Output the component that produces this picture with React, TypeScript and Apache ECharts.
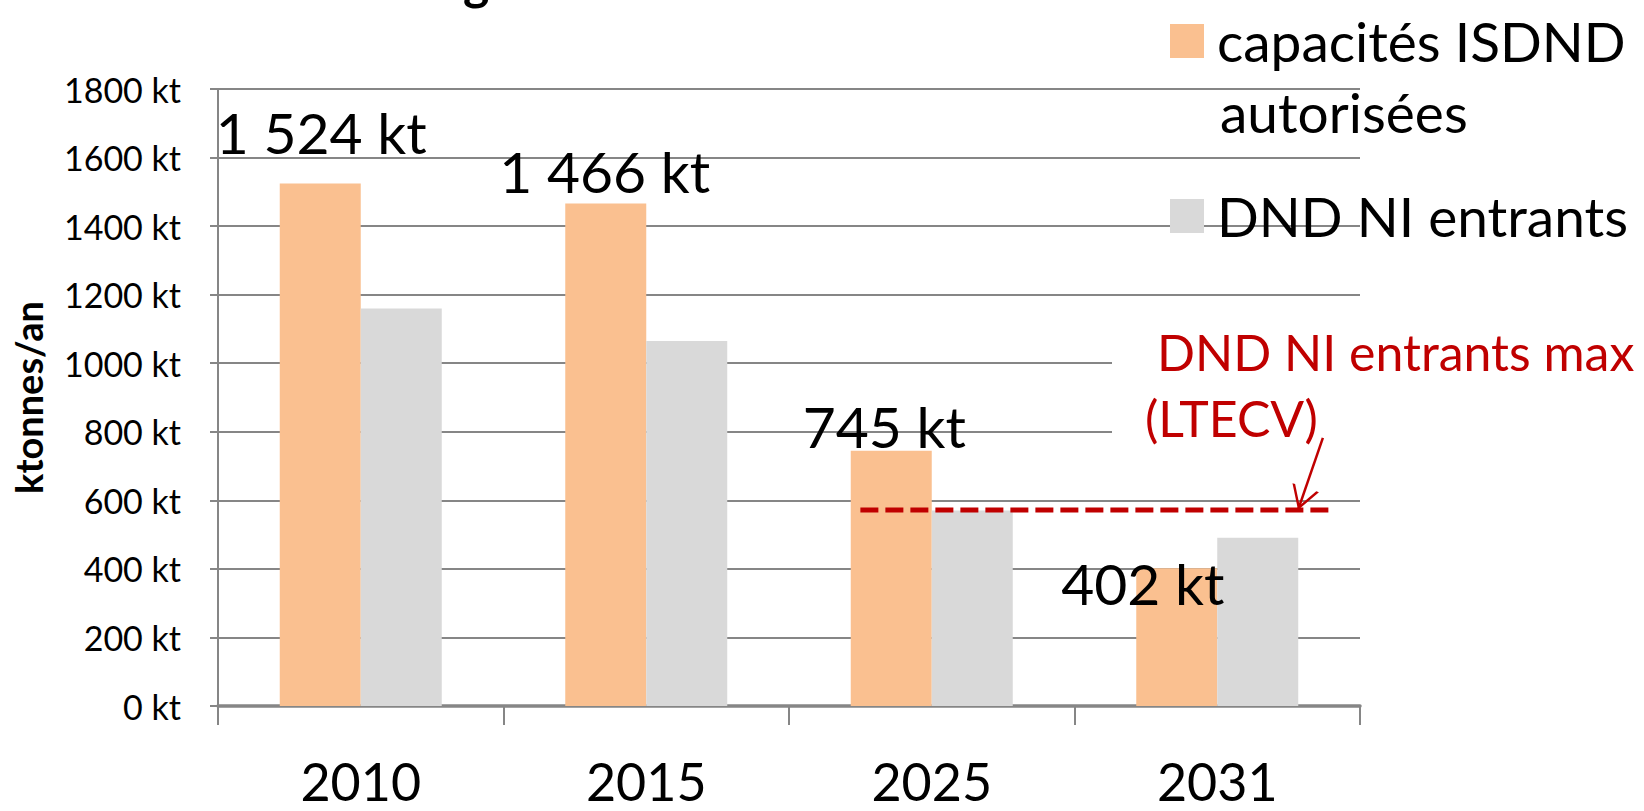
import { useEffect, useRef } from 'react';
import * as echarts from 'echarts';

// ---- data ----
const categories = ['2010', '2015', '2025', '2031'];
const capacitesISDND = [1524, 1466, 745, 402];
const dndEntrants = [1160, 1065, 570, 491];
const ltecvMax = 572;
// extent of the LTECV max line, in category-position units (0..4)
const ltecvExtent = [2.25, 3.9];
// annotation arrow (category-position, value)
const arrowStart = [3.87, 782];
const arrowEnd = [3.783, ltecvMax];
const yMin = 0;
const yMax = 1800;
const yStep = 200;

const SERIES_CAP = 'capacités ISDND autorisées';
const SERIES_IN = 'DND NI entrants';
const SERIES_MAX = 'DND NI entrants max (LTECV)';

// label nudges (styling, px)
const labelOffsets = [[1, -23], [-1, -4], [-7, 4], [-34, 43]];

const FONT = 'Lato';
const AXIS_GREY = '#868686';
const ORANGE = '#FAC090';
const GREY = '#D9D9D9';
const RED = '#C00000';

const fmtKt = (v: number) =>
  String(v).replace(/\B(?=(\d{3})+(?!\d))/g, ' ') + ' kt';

const arrowPath = 'path://M5,0L5,0M0,20L5,10L10,20L9,20L5,12L1,20Z';

export default function App() {
  const ref = useRef<HTMLDivElement>(null);

  useEffect(() => {
    const chart = echarts.init(ref.current!, null, { renderer: 'svg' });
    const option: any = {
      animation: false,
      backgroundColor: '#fff',
      textStyle: { fontFamily: FONT },
      grid: { left: 218, top: 89, right: 284, bottom: 105, containLabel: false },
      legend: {
        data: [SERIES_CAP, SERIES_IN],
        orient: 'vertical',
        left: 1165,
        top: 6,
        itemWidth: 34,
        itemHeight: 34,
        itemGap: 115,
        icon: 'rect',
        selectedMode: false,
        formatter: (n: string) => (n === SERIES_CAP ? 'capacités ISDND' : n),
        textStyle: {
          fontSize: 55,
          lineHeight: 60,
          color: '#000',
          fontFamily: FONT,
          padding: [0, 0, 0, 8],
        },
      },
      xAxis: [
        {
          type: 'category',
          data: categories,
          boundaryGap: true,
          axisLine: { lineStyle: { color: AXIS_GREY, width: 3.5 } },
          axisTick: {
            show: true,
            length: 19,
            interval: 0,
            alignWithLabel: false,
            lineStyle: { color: AXIS_GREY, width: 2 },
          },
          axisLabel: { fontSize: 52, lineHeight: 40, color: '#000', margin: 55, fontFamily: FONT },
          splitLine: { show: false },
        },
        {
          type: 'value',
          min: 0,
          max: categories.length,
          show: false,
        },
      ],
      yAxis: {
        type: 'value',
        min: yMin,
        max: yMax,
        interval: yStep,
        name: 'ktonnes/an',
        nameLocation: 'middle',
        nameRotate: 90,
        nameGap: 171,
        nameTextStyle: { fontSize: 38, fontWeight: 'bold', color: '#000', fontFamily: FONT },
        axisLine: { show: true, lineStyle: { color: AXIS_GREY, width: 2 } },
        axisTick: { show: true, length: 8, lineStyle: { color: AXIS_GREY, width: 2 } },
        axisLabel: {
          fontSize: 34,
          color: '#000',
          margin: 37,
          fontFamily: FONT,
          formatter: (v: number) => v + ' kt',
        },
        splitLine: { show: true, lineStyle: { color: AXIS_GREY, width: 2 } },
      },
      series: [
        {
          name: SERIES_CAP,
          type: 'bar',
          barWidth: 81,
          barGap: '0%',
          itemStyle: { color: ORANGE },
          label: {
            show: true,
            position: 'top',
            distance: 0,
            fontSize: 57,
            lineHeight: 57,
            color: '#000',
            fontFamily: FONT,
            formatter: (p: any) => fmtKt(p.value),
          },
          data: capacitesISDND.map((v, i) => ({ value: v, label: { offset: labelOffsets[i] } })),
          z: 2,
        },
        {
          name: SERIES_IN,
          type: 'bar',
          barWidth: 81,
          barGap: '0%',
          itemStyle: { color: GREY },
          data: dndEntrants,
          z: 2,
        },
        {
          name: SERIES_MAX,
          type: 'line',
          xAxisIndex: 1,
          yAxisIndex: 0,
          symbol: 'none',
          data: ltecvExtent.map((x) => [x, ltecvMax]),
          lineStyle: { color: RED, width: 5, type: [18, 7] },
          z: 4,
          markLine: {
            silent: true,
            symbol: ['none', arrowPath],
            symbolSize: [28, 47],
            label: { show: false },
            lineStyle: { color: RED, width: 2.5, type: 'solid' },
            data: [[{ coord: arrowStart }, { coord: arrowEnd }]],
          },
        },
      ],
      graphic: [
        {
          type: 'rect',
          shape: { x: 1112, y: 325, width: 532, height: 130 },
          style: { fill: '#fff' },
          z: 1,
          silent: true,
        },
        {
          type: 'text',
          x: 1220,
          y: 111.5,
          z: 5,
          style: { text: 'autorisées', fontSize: 55, fontFamily: FONT, fill: '#000', verticalAlign: 'middle' },
        },
        {
          type: 'text',
          x: 1157,
          y: 352,
          z: 5,
          style: { text: 'DND NI entrants max', fontSize: 50, fontFamily: FONT, fill: RED, verticalAlign: 'middle' },
        },
        {
          type: 'text',
          x: 1145,
          y: 418,
          z: 5,
          style: { text: '(LTECV)', fontSize: 50, fontFamily: FONT, fill: RED, verticalAlign: 'middle' },
        },
        {
          type: 'text',
          x: 463,
          y: -19,
          z: 5,
          style: { text: 'g', fontSize: 50, fontWeight: 'bold', fontFamily: FONT, fill: '#000', verticalAlign: 'middle' },
        },
      ],
    };
    chart.setOption(option);
    return () => chart.dispose();
  }, []);

  return (
    <div
      ref={ref}
      style={{ position: 'fixed', left: 0, top: 0, width: 1644, height: 811, background: '#fff' }}
    />
  );
}
